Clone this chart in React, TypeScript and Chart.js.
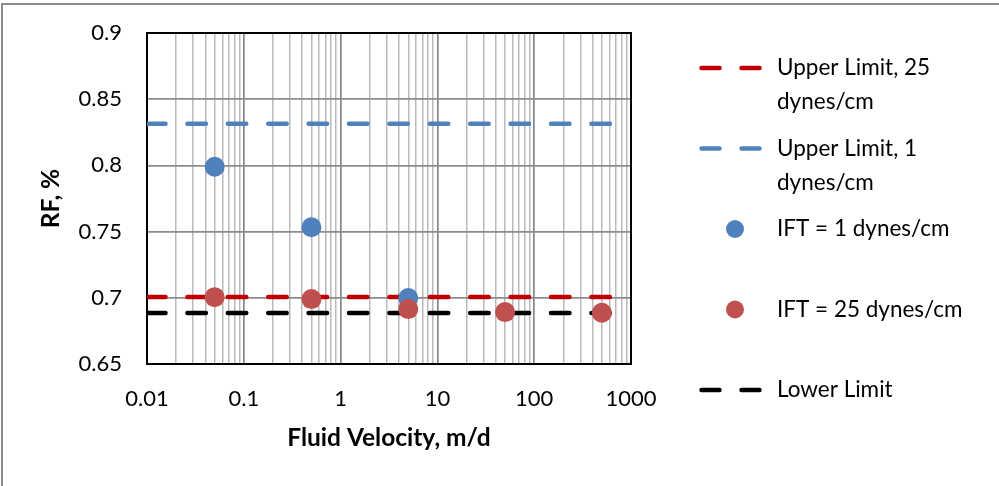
import React, { useEffect, useRef } from "react";
import { Chart, registerables } from "chart.js";

Chart.register(...registerables);

// ---- Data ----
const ift1Velocity = [0.05, 0.5, 5];
const ift1RF = [0.799, 0.7533, 0.6998];
const ift25Velocity = [0.05, 0.5, 5, 50, 500];
const ift25RF = [0.7005, 0.699, 0.6915, 0.6892, 0.6887];
const limitVelocity = [0.01, 1000];
const upperLimit25 = [0.7006, 0.7006];
const upperLimit1 = [0.8315, 0.8315];
const lowerLimit = [0.6885, 0.6885];
const yTickLabels = ["0.65", "0.7", "0.75", "0.8", "0.85", "0.9"];
const xTickLabels = ["0.01", "0.1", "1", "10", "100", "1000"];

const FONT = "Lato, 'Open Sans', sans-serif";
const BLUE = "#4F81BD";
const RED_PT = "#C0504D";
const RED_LN = "#C00000";
const BLACK = "#000000";

const toXY = (xs: number[], ys: number[]) => xs.map((x, i) => ({ x, y: ys[i] }));

const isDecade = (v: number) => Math.abs(Math.log10(v) - Math.round(Math.log10(v))) < 1e-9;

const outerBorder = {
  id: "outerBorder",
  beforeDraw(chart: any) {
    const ctx = chart.ctx;
    ctx.save();
    ctx.fillStyle = "#ffffff";
    ctx.fillRect(0, 0, chart.width, chart.height);
    ctx.strokeStyle = "#8C8C8C";
    ctx.lineWidth = 2;
    ctx.strokeRect(2, 4, chart.width + 100, chart.height + 100);
    ctx.restore();
  },
};

const plotBorder = {
  id: "plotBorder",
  beforeDatasetsDraw(chart: any) {
    const { ctx, chartArea: a } = chart;
    ctx.save();
    ctx.strokeStyle = "#000000";
    ctx.lineWidth = 2;
    ctx.strokeRect(a.left, a.top, a.right - a.left, a.bottom - a.top);
    ctx.restore();
  },
};

const customLegend = {
  id: "customLegend",
  afterDraw(chart: any) {
    const { ctx } = chart;
    const order = [0, 1, 3, 4, 2];
    ctx.save();
    ctx.font = `22.5px ${FONT}`;
    ctx.textBaseline = "middle";
    ctx.textAlign = "left";
    order.forEach((dsIndex, i) => {
      const ds = chart.data.datasets[dsIndex];
      const y = 68 + i * 80.5;
      if (ds.showLine) {
        ctx.save();
        ctx.strokeStyle = ds.borderColor;
        ctx.lineWidth = 4.5;
        ctx.lineCap = "round";
        ctx.setLineDash([18, 22]);
        ctx.beginPath();
        ctx.moveTo(701.5, y);
        ctx.lineTo(762, y);
        ctx.stroke();
        ctx.restore();
      } else {
        ctx.fillStyle = ds.backgroundColor;
        ctx.beginPath();
        ctx.arc(735, y, 9, 0, Math.PI * 2);
        ctx.fill();
      }
      ctx.fillStyle = "#000000";
      (ds.legendLines as string[]).forEach((t, j) => {
        ctx.fillText(t, 777, y + j * 34);
      });
    });
    ctx.restore();
  },
};

export default function App() {
  const ref = useRef<HTMLCanvasElement | null>(null);

  useEffect(() => {
    document.body.style.margin = "0";
    const lineDs = (label: string, lines: string[], data: number[], color: string) => ({
      type: "line" as const,
      label,
      legendLines: lines,
      data: toXY(limitVelocity, data),
      borderColor: color,
      backgroundColor: color,
      borderWidth: 4.5,
      borderDash: [18.5, 21.9],
      borderCapStyle: "round" as const,
      pointRadius: 0,
      showLine: true,
      order: 3,
    });
    const chart = new Chart(ref.current as HTMLCanvasElement, {
      type: "scatter",
      data: {
        datasets: [
          lineDs("Upper Limit, 25 dynes/cm", ["Upper Limit, 25", "dynes/cm"], upperLimit25, RED_LN),
          lineDs("Upper Limit, 1 dynes/cm", ["Upper Limit, 1", "dynes/cm"], upperLimit1, BLUE),
          lineDs("Lower Limit", ["Lower Limit"], lowerLimit, BLACK),
          {
            label: "IFT = 1 dynes/cm",
            legendLines: ["IFT = 1 dynes/cm"],
            data: toXY(ift1Velocity, ift1RF),
            backgroundColor: BLUE,
            borderColor: BLUE,
            borderWidth: 0,
            pointRadius: 10,
            showLine: false,
            order: 2,
          },
          {
            label: "IFT = 25 dynes/cm",
            legendLines: ["IFT = 25 dynes/cm"],
            data: toXY(ift25Velocity, ift25RF),
            backgroundColor: RED_PT,
            borderColor: RED_PT,
            borderWidth: 0,
            pointRadius: 10,
            showLine: false,
            order: 1,
          },
        ] as any,
      },
      options: {
        animation: false,
        responsive: true,
        maintainAspectRatio: false,
        layout: { padding: { left: 0, top: 33, right: 368, bottom: 0 } },
        plugins: { legend: { display: false }, tooltip: { enabled: false } },
        scales: {
          x: {
            type: "logarithmic",
            min: 0.01,
            max: 1000,
            afterBuildTicks(scale: any) {
              const ticks: any[] = [];
              for (let e = -2; e < 3; e++) {
                for (let m = 1; m < 10; m++) ticks.push({ value: m * Math.pow(10, e) });
              }
              ticks.push({ value: 1000 });
              scale.ticks = ticks;
            },
            afterFit(scale: any) {
              scale.height = 122;
              scale.paddingLeft = 0;
              scale.paddingRight = 0;
            },
            ticks: {
              autoSkip: false,
              maxRotation: 0,
              padding: 22,
              color: "#000000",
              font: { family: FONT, size: 22 },
              callback(value: any) {
                const v = Number(value);
                if (!isDecade(v)) return "";
                const idx = Math.round(Math.log10(v)) + 2;
                return xTickLabels[idx];
              },
            },
            grid: {
              drawTicks: false,
              color: (ctx: any) => (ctx.tick && isDecade(ctx.tick.value) ? "#868686" : "#BABABA"),
              lineWidth: (ctx: any) => (ctx.tick && isDecade(ctx.tick.value) ? 1.7 : 1.5),
            },
            border: { display: false },
            title: {
              display: true,
              text: "Fluid Velocity, m/d",
              color: "#000000",
              font: { family: FONT, size: 24.5, weight: "bold" },
              padding: { top: 0, bottom: 33 },
            },
          },
          y: {
            type: "linear",
            min: 0.65,
            max: 0.9,
            afterBuildTicks(scale: any) {
              scale.ticks = yTickLabels.map((s) => ({ value: parseFloat(s) }));
            },
            afterFit(scale: any) {
              scale.width = 147;
              scale.paddingTop = 0;
              scale.paddingBottom = 0;
            },
            ticks: {
              padding: 25,
              color: "#000000",
              font: { family: FONT, size: 22 },
              callback(_v: any, i: number) {
                return yTickLabels[i];
              },
            },
            grid: { drawTicks: false, color: "#8C8C8C", lineWidth: 1.7 },
            border: { display: false },
            title: {
              display: true,
              text: "RF, %",
              color: "#000000",
              font: { family: FONT, size: 24.5, weight: "bold" },
              padding: { top: 36, bottom: 0 },
            },
          },
        },
      } as any,
      plugins: [outerBorder, plotBorder, customLegend],
    });
    return () => chart.destroy();
  }, []);

  return (
    <div style={{ position: "absolute", left: 0, top: 0, width: 999, height: 486 }}>
      <canvas ref={ref} />
    </div>
  );
}
